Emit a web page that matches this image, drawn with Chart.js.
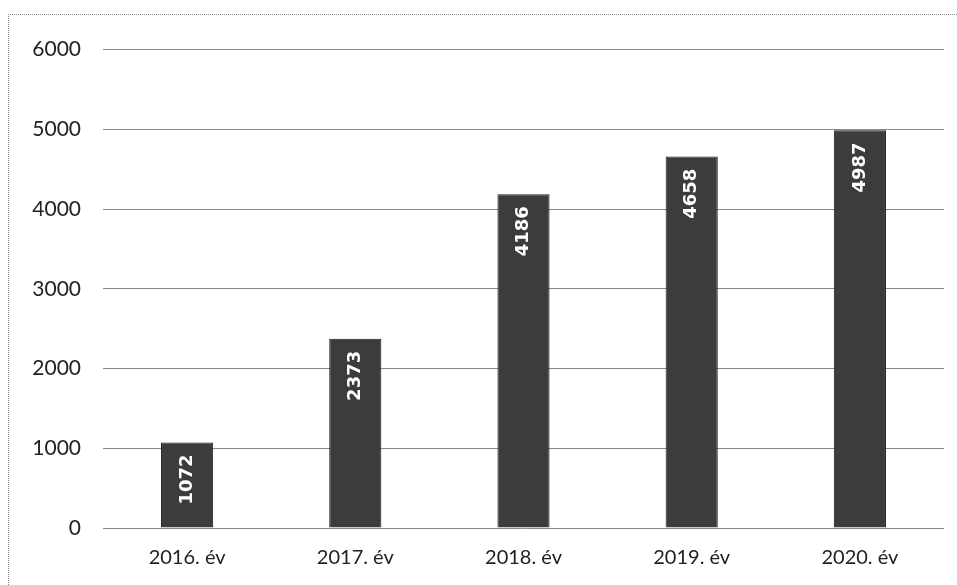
<!DOCTYPE html>
<html>
<head>
<meta charset="utf-8">
<script src="https://cdn.jsdelivr.net/npm/chart.js@4"></script>
<style>
  html, body { margin: 0; padding: 0; background: #fff; }
  #wrap {
    position: absolute; left: 8px; top: 14px; width: 949px; height: 571px;
    border-top: 1px dotted #888; border-left: 1px dotted #888;
    box-sizing: border-box;
  }
  canvas { display: block; }
</style>
</head>
<body>
<div id="wrap"><canvas id="chart"></canvas></div>
<script>
var years = ['2016. év', '2017. év', '2018. év', '2019. év', '2020. év'];
var counts = [1072, 2373, 4186, 4658, 4987];
var yTicks = [0, 1000, 2000, 3000, 4000, 5000, 6000];

// white rotated value label at the top of each bar
var barLabels = {
    id: 'barLabels',
    afterDatasetsDraw: function(chart) {
        var ctx = chart.ctx;
        var meta = chart.getDatasetMeta(0);
        ctx.save();
        ctx.fillStyle = '#fff';
        ctx.font = 'bold 18px "DejaVu Sans", sans-serif';
        ctx.textAlign = 'right';
        ctx.textBaseline = 'middle';
        meta.data.forEach(function(bar, i) {
            ctx.save();
            ctx.translate(bar.x, bar.y + 12);
            ctx.rotate(-Math.PI / 2);
            ctx.fillText(String(counts[i]), 0, 0);
            ctx.restore();
        });
        ctx.restore();
    }
};

new Chart(document.getElementById('chart'), {
    type: 'bar',
    data: {
        labels: years,
        datasets: [{
            data: counts,
            backgroundColor: '#3c3c3c',
            borderColor: '#1e1e1e',
            borderWidth: 1,
            categoryPercentage: 1,
            barPercentage: 0.31
        }]
    },
    options: {
        responsive: true,
        maintainAspectRatio: false,
        animation: false,
        layout: { padding: { left: 0, right: 13, top: 25, bottom: 5 } },
        plugins: {
            legend: { display: false },
            tooltip: { enabled: false }
        },
        scales: {
            y: {
                min: 0,
                max: 6000,
                afterBuildTicks: function(axis) {
                    axis.ticks = yTicks.map(function(v) { return { value: v }; });
                },
                afterFit: function(axis) {
                    axis.width = 94;
                },
                ticks: {
                    color: '#222',
                    padding: 22,
                    font: { family: 'Lato, sans-serif', size: 21 },
                    callback: function(v) { return String(v); }
                },
                grid: { color: '#8a8a8a', lineWidth: 1, drawTicks: false },
                border: { display: false }
            },
            x: {
                ticks: {
                    color: '#222',
                    padding: 10,
                    font: { family: 'Lato, sans-serif', size: 20 }
                },
                grid: { display: false },
                border: { display: false }
            }
        }
    },
    plugins: [barLabels]
});
</script>
</body>
</html>
